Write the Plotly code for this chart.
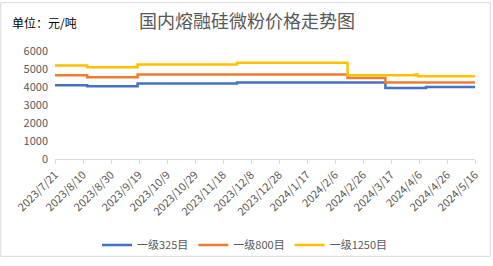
import plotly.graph_objects as go
from datetime import date, timedelta

# Step-change data (date, price) per series
dates_325 = ["2023-07-21", "2023-08-13", "2023-09-18", "2023-11-28", "2024-03-13", "2024-04-11", "2024-05-16"]
vals_325 = [4100, 4050, 4200, 4250, 3950, 4000, 4000]

dates_800 = ["2023-07-21", "2023-08-13", "2023-09-18", "2024-02-15", "2024-03-13", "2024-05-16"]
vals_800 = [4650, 4550, 4700, 4500, 4250, 4250]

dates_1250 = ["2023-07-21", "2023-08-13", "2023-09-18", "2023-11-28", "2024-02-15", "2024-04-03", "2024-04-05", "2024-05-16"]
vals_1250 = [5200, 5100, 5250, 5350, 4650, 4700, 4600, 4600]

names = ["一级325目", "一级800目", "一级1250目"]
colors = ["#4472C4", "#ED7D31", "#FFC000"]

start = date(2023, 7, 21)
tick_dates = [start + timedelta(days=20 * i) for i in range(16)]
tick_vals = [d.isoformat() for d in tick_dates]
tick_text = [f"{d.year}/{d.month}/{d.day}" for d in tick_dates]

W, H = 493, 266
ml, mr, mt, mb = 55, 16, 51, 102

fig = go.Figure()
for xs, ys, n, c in [(dates_325, vals_325, names[0], colors[0]),
                     (dates_800, vals_800, names[1], colors[1]),
                     (dates_1250, vals_1250, names[2], colors[2])]:
    fig.add_trace(go.Scatter(x=xs, y=ys, name=n, mode="lines",
                             line=dict(color=c, width=2.5, shape="hv")))

pw = W - ml - mr
ph = H - mt - mb
fig.add_shape(type="rect", xref="paper", yref="paper",
              x0=-(ml - 0.5) / pw, x1=(W - ml - 0.5) / pw,
              y0=-(mb - 0.5) / ph, y1=(H - mb - 0.5) / ph,
              line=dict(color="#D9D9D9", width=1), layer="below")

fig.update_layout(
    width=W, height=H,
    margin=dict(l=ml, r=mr, t=mt, b=mb),
    paper_bgcolor="white", plot_bgcolor="white",
    font=dict(family="Noto Sans CJK SC", color="#595959", size=11),
    title=dict(text="国内熔融硅微粉价格走势图", x=247 / W, xanchor="center",
               y=1 - 22 / H, yanchor="middle",
               font=dict(size=18, color="#595959")),
    showlegend=True,
    legend=dict(orientation="h", xref="container", yref="container",
                x=245 / W, xanchor="center", y=1 - 245 / H, yanchor="middle",
                font=dict(size=11, color="#595959"), itemwidth=30,
                bgcolor="rgba(0,0,0,0)"),
    annotations=[dict(text="单位：元/吨", xref="paper", yref="paper",
                      x=-(ml - 10) / pw, xanchor="left",
                      y=(H - mb - 21) / ph, yanchor="middle",
                      showarrow=False, font=dict(size=12, color="#000000"))],
)
fig.update_xaxes(type="date", range=["2023-07-21", "2024-05-16"],
                 tickmode="array", tickvals=tick_vals, ticktext=tick_text,
                 tickangle=-45, showgrid=False, showline=True,
                 linecolor="#D9D9D9", linewidth=1, ticks="outside",
                 ticklen=4, tickcolor="#D9D9D9", zeroline=False,
                 tickfont=dict(size=11, color="#595959"))
fig.update_yaxes(range=[0, 6000], tickvals=[0, 1000, 2000, 3000, 4000, 5000, 6000],
                 showgrid=False, zeroline=False, showline=False,
                 ticklabelstandoff=6,
                 tickfont=dict(size=11, color="#595959"), ticks="")

fig.write_html("out.html")
